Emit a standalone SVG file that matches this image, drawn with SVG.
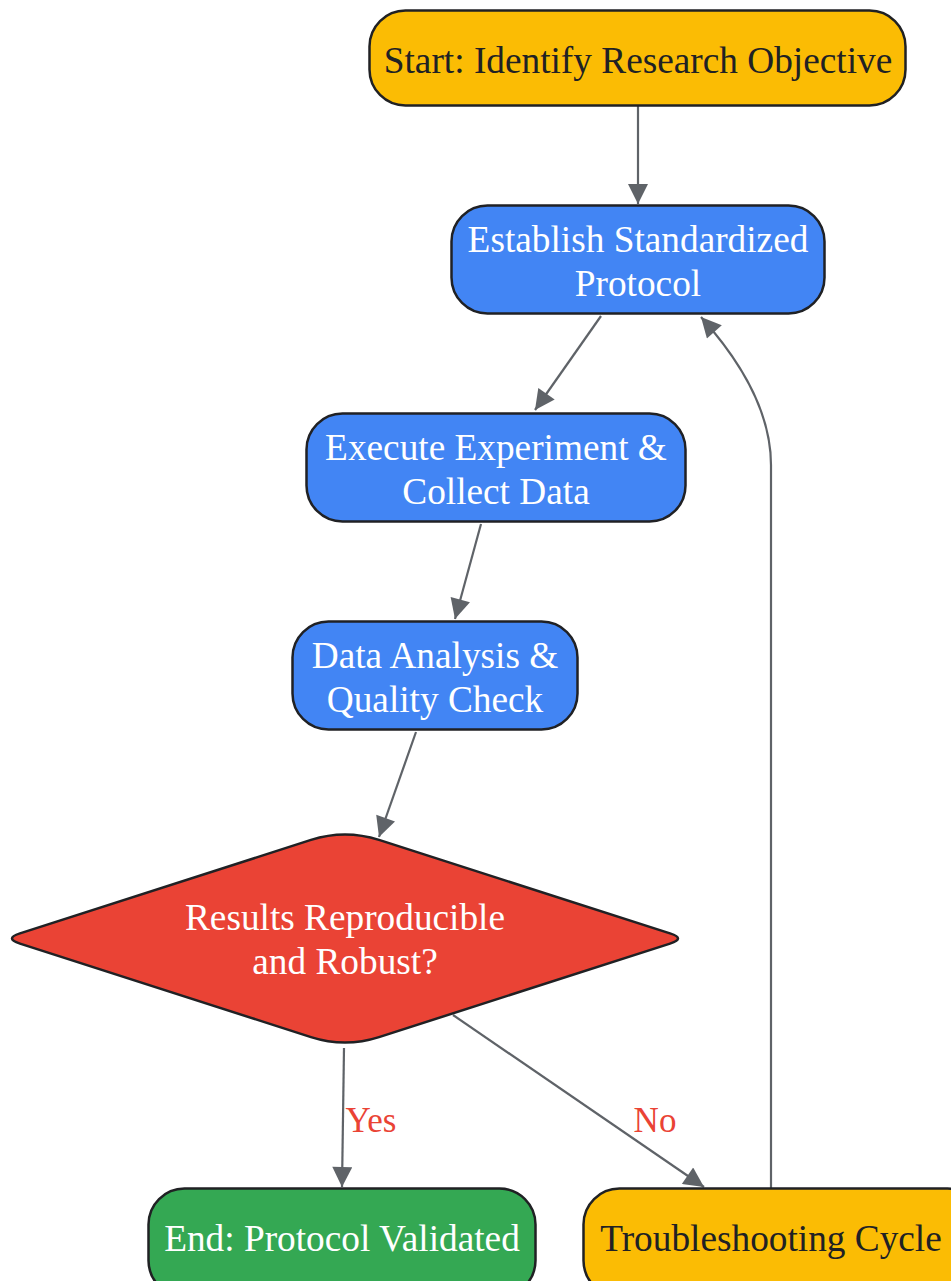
<svg xmlns="http://www.w3.org/2000/svg" width="951" height="1281" viewBox="0 0 951 1281">
<defs>
<marker id="arr" viewBox="0 0 10 10" refX="10" refY="5" markerUnits="userSpaceOnUse" markerWidth="23" markerHeight="20" orient="auto">
<path d="M0,0 L10,5 L0,10 z" fill="#5f6368"/>
</marker>
<style>
.node{stroke:#202124;stroke-width:2.5}
.yellow{fill:#FBBC04}
.blue{fill:#4285F4}
.red{fill:#EA4335}
.green{fill:#34A853}
.t{font-family:"Liberation Serif","Times New Roman",serif;font-size:37.3px;text-anchor:middle}
.dark{fill:#202124}
.light{fill:#ffffff}
.edge{fill:none;stroke:#5f6368;stroke-width:2.2;marker-end:url(#arr)}
.lbl{font-family:"Liberation Serif","Times New Roman",serif;font-size:35px;fill:#EA4335;text-anchor:middle}
</style>
</defs>
<rect width="951" height="1281" fill="#ffffff"/>
<g id="connectors">
<path class="edge" d="M638,106 L638,204"/>
<path class="edge" d="M601,316 L535,410"/>
<path class="edge" d="M481,524 L455,619"/>
<path class="edge" d="M416,732 L379,837"/>
<path class="edge" d="M344,1048 L342,1187"/>
<path class="edge" d="M453,1015 L704,1187"/>
<path class="edge" d="M771,1188 L771,465 Q771,395 701,317"/>
<text class="lbl" x="371" y="1132">Yes</text>
<text class="lbl" x="655" y="1132">No</text>
</g>
<g id="start">
<rect class="node yellow" x="369.5" y="10.5" width="536" height="95" rx="36"/>
<text class="t dark" x="638" y="73">Start: Identify Research Objective</text>
</g>
<g id="establish">
<rect class="node blue" x="451.5" y="205.5" width="373" height="108" rx="36"/>
<text class="t light" x="638" y="252">Establish Standardized</text>
<text class="t light" x="638" y="296">Protocol</text>
</g>
<g id="execute">
<rect class="node blue" x="306.5" y="413.5" width="379" height="108" rx="36"/>
<text class="t light" x="496" y="460">Execute Experiment &amp;</text>
<text class="t light" x="496" y="504">Collect Data</text>
</g>
<g id="analysis">
<rect class="node blue" x="292.5" y="621.5" width="285" height="108" rx="36"/>
<text class="t light" x="435" y="668">Data Analysis &amp;</text>
<text class="t light" x="435" y="712">Quality Check</text>
</g>
<g id="decision">
<path class="node red" d="M311,839.9 Q345,829 379,839.9 L670,933.4 Q686,938.5 670,943.6 L379,1037.1 Q345,1048 311,1037.1 L20,943.6 Q4,938.5 20,933.4 Z"/>
<text class="t light" x="345" y="930">Results Reproducible</text>
<text class="t light" x="345" y="974">and Robust?</text>
</g>
<g id="end">
<rect class="node green" x="148.5" y="1188.5" width="387" height="108" rx="36"/>
<text class="t light" x="342" y="1251">End: Protocol Validated</text>
</g>
<g id="trouble">
<rect class="node yellow" x="583.5" y="1188.5" width="400" height="108" rx="36"/>
<text class="t dark" x="771" y="1251">Troubleshooting Cycle</text>
</g>
</svg>
